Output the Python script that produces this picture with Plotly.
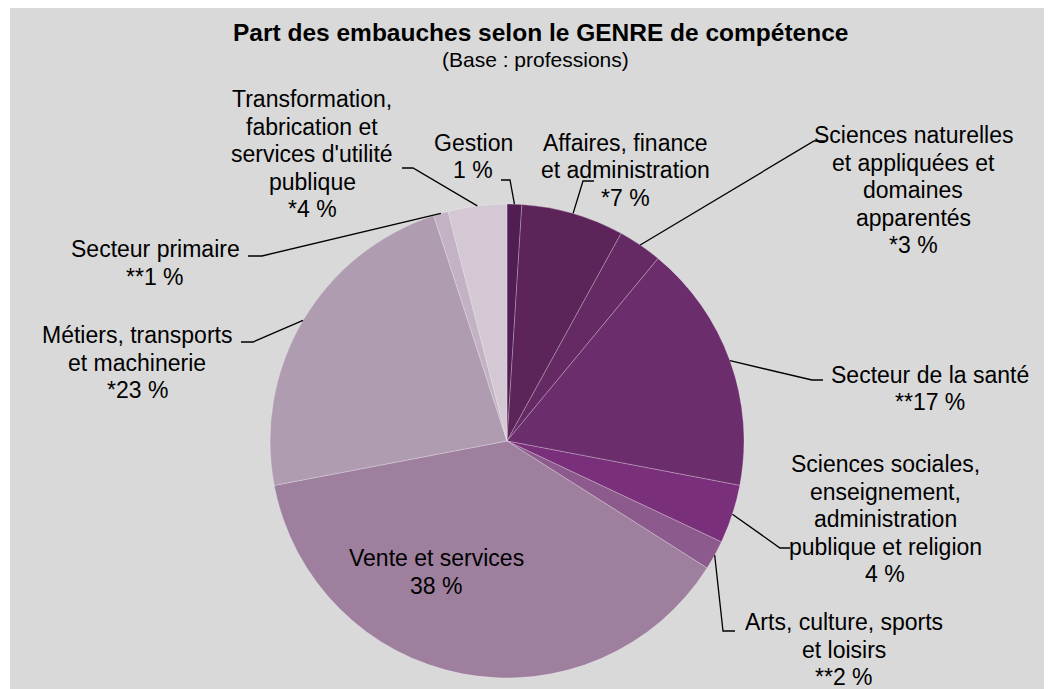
import math
import plotly.graph_objects as go

# ---------------- data ----------------
categories = [
    "Gestion",
    "Affaires, finance et administration",
    "Sciences naturelles et appliquées et domaines apparentés",
    "Secteur de la santé",
    "Sciences sociales, enseignement, administration publique et religion",
    "Arts, culture, sports et loisirs",
    "Vente et services",
    "Métiers, transports et machinerie",
    "Secteur primaire",
    "Transformation, fabrication et services d'utilité publique",
]
values = [1, 7, 3, 17, 4, 2, 38, 23, 1, 4]
quality_marks = ["", "*", "*", "**", "", "**", "", "*", "**", "*"]
label_lines = [
    ["Gestion"],
    ["Affaires, finance", "et administration"],
    ["Sciences naturelles", "et appliquées et", "domaines", "apparentés"],
    ["Secteur de la santé"],
    ["Sciences sociales,", "enseignement,", "administration", "publique et religion"],
    ["Arts, culture, sports", "et loisirs"],
    ["Vente et services"],
    ["Métiers, transports", "et machinerie"],
    ["Secteur primaire"],
    ["Transformation,", "fabrication et", "services d'utilité", "publique"],
]
title_text = "Part des embauches selon le GENRE de compétence"
subtitle_text = "(Base : professions)"

colors = ["#521d53", "#5c2459", "#652a64", "#6c2d6d", "#7a2f7a",
          "#8c5a8c", "#9e809e", "#b09cb1", "#c3b2c4", "#d4c8d4"]

# ---------------- layout (window pixels) ----------------
OFF = 8                      # default page margin around the plot div
FW, FH = 1052 - OFF, 689 - OFF
CX, CY, R = 507, 441, 237
FONT = "Liberation Sans, Arial, sans-serif"
LABEL_SIZE = 23
LINE_GAP = 27.5

# label block: (center x, first line center y)
label_pos = [(473, 143), (625, 143), (913, 135), (930, 375), (885, 464),
             (844, 622), (436, 558), (137, 335), (155, 249), (312, 99)]
# leader: (elbow point, end point) ; None = label inside slice
leaders = [((510, 180), (501, 180)), ((583, 181), (594, 181)),
           ((814, 141), (825, 141)), ((812, 380), (823, 380)),
           ((780, 548), (790, 548)), ((723, 631), (735, 631)),
           None, ((253, 342), (241, 342)), ((262, 256), (248, 256)),
           ((413, 168), (402, 168))]


def px(x):
    return (x - OFF) / FW


def py(y):
    return 1 - (y - OFF) / FH


fig = go.Figure(go.Pie(
    labels=categories, values=values, sort=False, direction="clockwise",
    rotation=0, textinfo="none", hoverinfo="skip",
    marker=dict(colors=colors, line=dict(color="rgba(255,255,255,0.35)", width=0.7)),
    domain=dict(x=[px(CX - R), px(CX + R)], y=[py(CY + R), py(CY - R)]),
    showlegend=False,
))

shapes = [dict(type="rect", xref="paper", yref="paper", x0=px(10), x1=px(1046),
               y0=0, y1=py(6), fillcolor="#d9d9d9", line=dict(width=0), layer="below")]
annotations = [
    dict(text="<b>" + title_text + "</b>", x=px(540), y=py(32), xref="paper", yref="paper",
         showarrow=False, xanchor="center", yanchor="middle",
         font=dict(family=FONT, size=24.5, color="#000")),
    dict(text=subtitle_text, x=px(535), y=py(59), xref="paper", yref="paper",
         showarrow=False, xanchor="center", yanchor="middle",
         font=dict(family=FONT, size=21, color="#000")),
]

total = sum(values)
cum = 0
for i, v in enumerate(values):
    mid = (cum + v / 2) / total * 2 * math.pi
    cum += v
    lines = label_lines[i] + [f"{quality_marks[i]}{v} %"]
    lx, ly = label_pos[i]
    for k, t in enumerate(lines):
        annotations.append(dict(text=t, x=px(lx), y=py(ly + k * LINE_GAP), xref="paper",
                                yref="paper", showarrow=False, xanchor="center",
                                yanchor="middle",
                                font=dict(family=FONT, size=LABEL_SIZE, color="#000")))
    if leaders[i] is not None:
        sx = CX + R * math.sin(mid)
        sy = CY - R * math.cos(mid)
        (ex, ey), (fx, fy) = leaders[i]
        path = f"M {px(sx)} {py(sy)} L {px(ex)} {py(ey)} L {px(fx)} {py(fy)}"
        shapes.append(dict(type="path", xref="paper", yref="paper", path=path,
                           line=dict(color="#000", width=1.3), layer="above"))

fig.update_layout(
    width=FW, height=FH, margin=dict(l=0, r=0, t=0, b=0),
    paper_bgcolor="white", plot_bgcolor="white",
    shapes=shapes, annotations=annotations,
)
fig.write_html("out.html")
